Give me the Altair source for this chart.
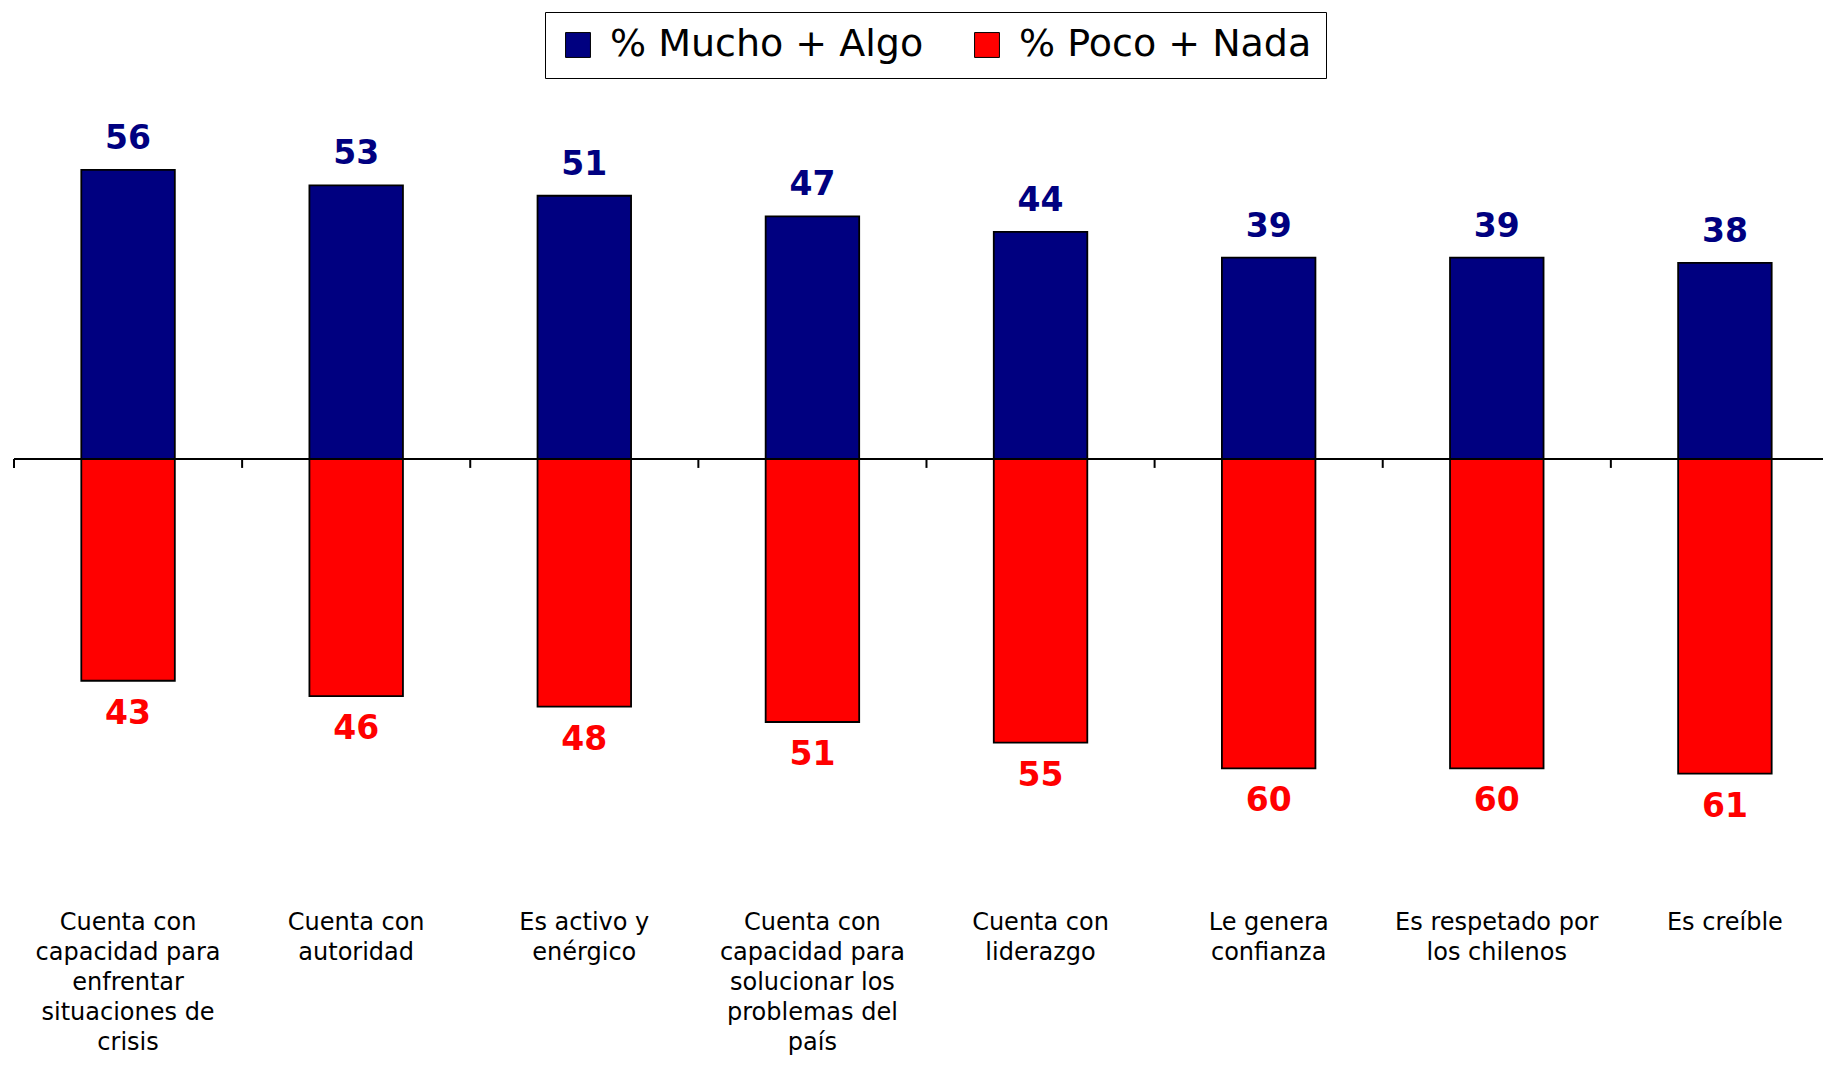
import altair as alt
import pandas as pd

categories = [
    "Cuenta con\ncapacidad para\nenfrentar\nsituaciones de\ncrisis",
    "Cuenta con\nautoridad",
    "Es activo y\nenérgico",
    "Cuenta con\ncapacidad para\nsolucionar los\nproblemas del\npaís",
    "Cuenta con\nliderazgo",
    "Le genera\nconfianza",
    "Es respetado por\nlos chilenos",
    "Es creíble",
]
mucho_algo = [56, 53, 51, 47, 44, 39, 39, 38]
poco_nada = [43, 46, 48, 51, 55, 60, 60, 61]
series_names = ["% Mucho + Algo", "% Poco + Nada"]
series_colors = ["#000080", "#FF0000"]

rows = []
for i, c in enumerate(categories):
    rows.append({"idx": i, "cat": c, "series": series_names[0], "value": mucho_algo[i], "signed": mucho_algo[i]})
    rows.append({"idx": i, "cat": c, "series": series_names[1], "value": poco_nada[i], "signed": -poco_nada[i]})
df = pd.DataFrame(rows)
cat_df = pd.DataFrame({"idx": list(range(len(categories))), "cat": categories})

XMAX = 7.93
YDOM = [-85.5, 71.5]

xs = alt.Scale(domain=[0, XMAX], nice=False, zero=False)
ys = alt.Scale(domain=YDOM, nice=False, zero=False)

color = alt.Color(
    "series:N",
    scale=alt.Scale(domain=series_names, range=series_colors),
    legend=alt.Legend(
        title=None,
        orient="none",
        legendX=531,
        legendY=-78,
        direction="horizontal",
        symbolType="square",
        symbolSize=620,
        symbolStrokeColor="black",
        symbolStrokeWidth=1,
        symbolOpacity=1,
        labelFont="DejaVu Sans",
        labelFontSize=38,
        labelColor="black",
        labelLimit=0,
        labelOffset=13,
        columnPadding=44,
        padding=14,
        strokeColor="black",
        fillColor="white",
    ),
)

base = alt.Chart(df).transform_calculate(
    x0="datum.idx + 0.295", x1="datum.idx + 0.705", xc="datum.idx + 0.5", zero="0"
)

bars = base.mark_bar(stroke="black", strokeWidth=1.8).encode(
    x=alt.X("x0:Q", scale=xs, axis=None),
    x2="x1:Q",
    y=alt.Y("signed:Q", scale=ys, axis=None),
    y2="zero:Q",
    color=color,
)

pos_labels = base.transform_filter("datum.signed > 0").mark_text(
    font="DejaVu Sans", fontWeight="bold", fontSize=33, baseline="alphabetic", dy=-21, color="#000080"
).encode(
    x=alt.X("xc:Q", scale=xs, axis=None),
    y=alt.Y("signed:Q", scale=ys, axis=None),
    text="value:Q",
)

neg_labels = base.transform_filter("datum.signed < 0").mark_text(
    font="DejaVu Sans", fontWeight="bold", fontSize=33, baseline="alphabetic", dy=43, color="#FF0000"
).encode(
    x=alt.X("xc:Q", scale=xs, axis=None),
    y=alt.Y("signed:Q", scale=ys, axis=None),
    text="value:Q",
)

cat_base = alt.Chart(cat_df).transform_calculate(
    xc="datum.idx + 0.5", zero="0", xend=str(XMAX), tick_end="-1.75", label_y="-91.3"
)

zero_line = cat_base.mark_rule(color="black", strokeWidth=2).encode(
    x=alt.X("zero:Q", scale=xs, axis=None),
    x2="xend:Q",
    y=alt.Y("zero:Q", scale=ys, axis=None),
)

ticks = cat_base.mark_rule(color="black", strokeWidth=2).encode(
    x=alt.X("idx:Q", scale=xs, axis=None),
    y=alt.Y("zero:Q", scale=ys, axis=None),
    y2="tick_end:Q",
)

cat_labels = cat_base.mark_text(
    font="DejaVu Sans", fontSize=24, baseline="alphabetic", align="center",
    lineHeight=30, lineBreak="\n", color="black"
).encode(
    x=alt.X("xc:Q", scale=xs, axis=None),
    y=alt.Y("label_y:Q", scale=ys, axis=None),
    text="cat:N",
)

chart = alt.layer(bars, zero_line, ticks, pos_labels, neg_labels, cat_labels).properties(
    width=1809,
    height=810,
    padding={"left": 6, "top": 82, "right": 0, "bottom": 158},
    autosize=alt.AutoSizeParams(type="none"),
    background="white",
).configure_view(stroke=None)

chart.save("out.html", embed_options={"renderer": "svg", "actions": False})
